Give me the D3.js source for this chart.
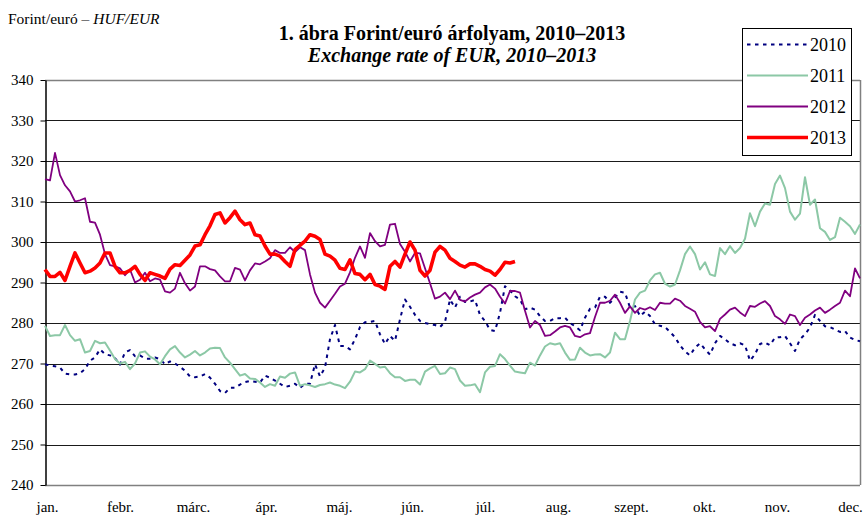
<!DOCTYPE html>
<html>
<head>
<meta charset="utf-8">
<script src="https://cdn.jsdelivr.net/npm/d3@7"></script>
<style>
  body { margin: 0; background: #fff; }
  svg { display: block; font-family: "Liberation Serif", "Times New Roman", serif; }
</style>
</head>
<body>
<svg width="865" height="515"></svg>
<script>
// month labels on the category axis
const months = ['jan.', 'febr.', 'márc.', 'ápr.', 'máj.', 'jún.', 'júl.', 'aug.', 'szept.', 'okt.', 'nov.', 'dec.'];
const yTicks = [240, 250, 260, 270, 280, 290, 300, 310, 320, 330, 340];
const years = ['2010', '2011', '2012', '2013'];

// HUF/EUR at even steps through the year
const v2010 = [269.8,269.5,269.3,269,267.5,267.3,267.3,267.6,268.6,270.7,271.5,273.5,272.3,272,271.3,269.7,272.8,273.3,271.8,272,271.2,271.2,271.5,271.1,269.8,270.5,270,269.2,268.2,266.8,266.6,266.8,267.4,266.5,265,263.2,262.7,264,264,264.8,265.4,265.7,
  265.5,265.3,267,266.5,265.8,265,264.2,264.5,265,264,265,265,269.8,266.8,269,276,279.5,274.3,274.3,273.5,276,279,280.2,280.3,280.5,277.2,274.8,276.8,275.6,280.9,285.8,284,282,280.5,280,279.7,279.5,279,280.3,285.8,283.8,
  286.5,285.2,285.3,285.7,282,280.5,278.3,278,282.5,289.1,288,286.6,285.8,283.4,283.8,283.3,281.7,280.5,280.5,281.2,281.2,281.3,280,279.2,278.2,281.3,283.5,283.8,286.5,286.5,285,286.3,287.7,287.5,283.8,284.2,281.7,282.8,281.7,279.7,279.3,
  279,277.8,276.5,274.5,273,272,273.9,275,273.5,272.2,275,276.8,276,275,274.5,275,274.5,270.7,272.3,274.8,275.2,274.5,276.4,276.5,276.8,275,273.1,276,277.2,278.9,282,280.5,279.2,279,278.4,277.8,278,276.4,275.8,275.5];

const v2011 = [279.3,276.8,277,277,279.5,277,275.6,276,272.7,273.1,275.6,275,275.2,273.2,271.1,270,270.4,268.6,270,272.7,273,271.7,271,269.8,271.8,273.5,274.3,272.7,271.5,272.2,273.1,272,272.7,273.7,273.9,273.8,271.5,270.2,268.6,267,267.4,266.3,
  266.2,265.3,264.2,264.9,264.5,266.8,266.5,267.5,267.8,264.5,264.9,264.6,264.2,264.7,264.9,265.3,264.8,264.5,263.9,265.5,268,267.8,268.6,270.7,269.9,269,269.2,267.6,266.6,266.6,265.7,266,266,264.8,268,268.8,269.4,267.4,267.6,269,268.6,
  265.8,264.5,264.6,264.9,262.9,267.8,269.2,269.4,272.3,271.1,269.5,268,267.8,267.6,270.2,269.5,272,274.2,275,274.7,275,272.7,270.9,271,273.9,272.7,272,272.2,272.3,271.5,272.7,277.6,276,276,280.5,285.8,287.5,288,290.5,292,292.4,
  289.7,289,289.5,293,297,298.9,297,293.2,295,292,291.6,298.5,297,299,297.3,298.5,300.8,307.1,303.9,307.5,309.5,309.2,314.3,316.4,313.3,307.5,305.5,307,316,309.2,310.5,303.4,302.5,300.5,301.2,306,305,303.9,302,304.3];

const v2012 = [315.5,315.2,322,316.5,314,312.5,310,310.3,310.8,305,304.8,301.8,297,294.3,294,293.5,291.8,293.2,290,290.7,292.4,290.3,291,290.7,287.8,287.5,288.5,292.4,289.8,288,289,294,294,293.3,293,291.5,290.3,290.3,293.6,293.2,290.5,293,
  294.7,294.5,295.2,296,298,297.3,297.3,298.7,297.5,298.7,298,292,287.5,285,283.8,285.5,287.2,289,289.7,292.5,296.1,298.9,296.1,302.2,300.2,298.9,299.3,304.3,304.5,299.5,297.6,295.2,297.3,297.2,293.5,289.8,286,286.5,287.5,285.9,288,
  285.7,285.3,286.3,287,287.5,288.8,289.5,288.5,286.5,284.8,287.9,287.9,287.5,283,278.9,280.5,279.5,276.8,277,277.9,278.9,279.3,278.9,276.8,276.5,277.2,277.5,281.5,285,285,285.5,287,285,282.5,284.1,282.5,283.7,283.3,283.9,283.2,285,
  284.8,284.8,286,285.5,284.2,283.5,282.8,280.3,278.9,279.2,278,281,282.1,283.3,283.8,282.6,281.7,284.2,284,284.8,285.4,284.2,281.7,280.9,279.8,282.1,281.7,279.5,281.3,282.1,283.1,283.8,282.5,283.3,284.2,285,288,286.6,293.5,291];

const v2013 = [293.2,291.5,291.5,292.5,290.5,294,297.3,294.8,292.4,292.8,293.6,294.8,297.3,297.3,294,292.4,292.4,293,294,292,290.5,292.4,292,291.6,291,293.3,294.4,294.2,295.5,296.8,299,299.3,301.8,304,306.8,307.2,304.7,306,307.6,305.5,304.3,304.7,
  301.8,301.5,299,297,297,296.5,295.2,294,298.1,299.2,300.2,301.8,301.4,300.6,297,296.5,295.5,293.5,293.2,295.6,292.2,292,290.7,292,289.5,289.1,288.3,294,295.2,293.8,297,300,298,293,291.6,293,297.5,298.9,298,296,295.2,
  294.3,293.8,294.6,294.6,294,293.2,292.8,291.8,293.2,295,294.8,295.2];

const series = [
  { year: years[0], values: v2010, color: '#000080', width: 2, dash: '3.5,4.5' },
  { year: years[1], values: v2011, color: '#8cc8a6', width: 2, dash: null },
  { year: years[2], values: v2012, color: '#800080', width: 1.8, dash: null },
  { year: years[3], values: v2013, color: '#ff0000', width: 3.6, dash: null }
];

const svg = d3.select('svg');
const plotLeft = 45, plotRight = 860, plotTop = 80, plotBottom = 485;

const x = d3.scaleLinear().domain([0, v2010.length - 1]).range([plotLeft, plotRight]);
const y = d3.scaleLinear().domain([240, 340]).range([plotBottom, plotTop]);
const xMonth = d3.scalePoint().domain(months).range([x(0.4), x(161)]);

// gridlines
svg.append('g')
  .selectAll('line')
  .data(yTicks)
  .join('line')
  .attr('x1', plotLeft).attr('x2', plotRight)
  .attr('y1', d => Math.round(y(d)) + 0.5)
  .attr('y2', d => Math.round(y(d)) + 0.5)
  .attr('stroke', d => (d === 240 || d === 340) ? '#808080' : '#1a1a1a')
  .attr('stroke-width', d => (d === 240 || d === 340) ? 1.5 : 1);

// right border
svg.append('line')
  .attr('x1', plotRight + 0.5).attr('x2', plotRight + 0.5)
  .attr('y1', plotTop).attr('y2', plotBottom)
  .attr('stroke', '#808080').attr('stroke-width', 1.5);

// y axis
const yAxis = svg.append('g')
  .attr('transform', `translate(${plotLeft + 0.5},0)`)
  .call(d3.axisLeft(y).tickValues(yTicks).tickSize(5).tickPadding(7).tickSizeOuter(0));
yAxis.select('.domain').attr('stroke', '#000').attr('stroke-width', 1.5);
yAxis.selectAll('.tick line').attr('stroke', '#000');
yAxis.selectAll('.tick text')
  .attr('font-size', 15)
  .attr('font-family', '"Liberation Serif", serif')
  .attr('fill', '#000');

// x axis (month labels)
const xAxis = svg.append('g')
  .attr('transform', `translate(0,${plotBottom})`)
  .call(d3.axisBottom(xMonth).tickSize(0));
xAxis.select('.domain').remove();
xAxis.selectAll('.tick text')
  .attr('y', 27).attr('dy', 0)
  .attr('font-size', 15)
  .attr('font-family', '"Liberation Serif", serif')
  .attr('fill', '#000');

// lines
const line = d3.line()
  .x((d, i) => x(i))
  .y(d => y(d));

svg.append('g')
  .selectAll('path')
  .data(series)
  .join('path')
  .attr('d', s => line(s.values))
  .attr('fill', 'none')
  .attr('stroke', s => s.color)
  .attr('stroke-width', s => s.width)
  .attr('stroke-dasharray', s => s.dash)
  .attr('stroke-linejoin', 'round');

// titles
svg.append('text')
  .attr('x', 8).attr('y', 24)
  .attr('font-size', 15.5)
  .text('Forint/euró – ')
  .append('tspan').attr('font-style', 'italic').text('HUF/EUR');

svg.append('text')
  .attr('x', 452).attr('y', 40)
  .attr('text-anchor', 'middle')
  .attr('font-size', 20).attr('font-weight', 'bold')
  .text('1. ábra Forint/euró árfolyam, 2010–2013');

svg.append('text')
  .attr('x', 452).attr('y', 62)
  .attr('text-anchor', 'middle')
  .attr('font-size', 20).attr('font-weight', 'bold').attr('font-style', 'italic')
  .text('Exchange rate of EUR, 2010–2013');

// legend
const legend = svg.append('g').attr('transform', 'translate(742,28)');
legend.append('rect')
  .attr('x', 0.5).attr('y', 0.5)
  .attr('width', 109).attr('height', 127)
  .attr('fill', '#fff').attr('stroke', '#000');

const item = legend.selectAll('g.item')
  .data(series)
  .join('g')
  .attr('class', 'item')
  .attr('transform', (d, i) => `translate(0,${16.5 + i * 31})`);

item.append('line')
  .attr('x1', 5).attr('x2', 66)
  .attr('stroke', d => d.color)
  .attr('stroke-width', d => d.width)
  .attr('stroke-dasharray', d => d.dash);

item.append('text')
  .attr('x', 68).attr('y', 6)
  .attr('font-size', 18)
  .text(d => d.year);
</script>
</body>
</html>
